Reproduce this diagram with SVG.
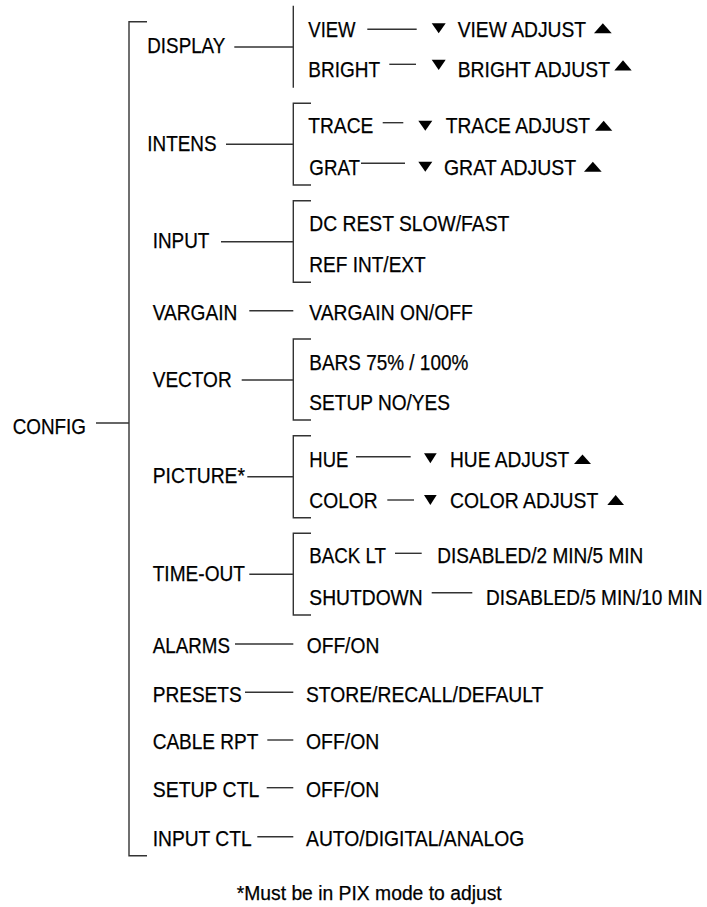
<svg xmlns="http://www.w3.org/2000/svg" width="707" height="907" viewBox="0 0 707 907">
<style>
text{font-family:"Liberation Sans",Arial,sans-serif;font-size:22.5px;fill:#000;stroke:#000;stroke-width:0.25}
.fn{font-size:20px}
.ln{stroke:#333;stroke-width:1.4;fill:none}
.tri{fill:#000}
</style>
<rect width="707" height="907" fill="#fff"/>
<g id="connectors" class="ln">
<path d="M147,21.7H129V855.7H147"/>
<line x1="96" y1="423" x2="129" y2="423"/>
<path d="M293.3,5.7V87.7"/>
<path d="M311,103.3H293.3V185H311"/>
<path d="M311,200.7H293.3V282.3H311"/>
<path d="M311,339H293.3V420H311"/>
<path d="M311,435.7H293.3V517.7H311"/>
<path d="M311,533.3H293.3V615H311"/>
<line x1="234.3" y1="47" x2="293.3" y2="47"/>
<line x1="226" y1="144.3" x2="293.3" y2="144.3"/>
<line x1="221" y1="241.7" x2="293.3" y2="241.7"/>
<line x1="249.3" y1="310.7" x2="293.3" y2="310.7"/>
<line x1="241.7" y1="380" x2="293.3" y2="380"/>
<line x1="247.3" y1="476.7" x2="293.3" y2="476.7"/>
<line x1="249.3" y1="574.3" x2="293.3" y2="574.3"/>
<line x1="235" y1="644" x2="293.3" y2="644"/>
<line x1="245" y1="692.3" x2="293.3" y2="692.3"/>
<line x1="267.3" y1="740" x2="293.3" y2="740"/>
<line x1="266.7" y1="787.7" x2="293.3" y2="787.7"/>
<line x1="257.3" y1="836.7" x2="293.3" y2="836.7"/>
<line x1="367.3" y1="29.3" x2="416.7" y2="29.3"/>
<line x1="389.3" y1="64.3" x2="416" y2="64.3"/>
<line x1="382.7" y1="122.7" x2="403.3" y2="122.7"/>
<line x1="361" y1="163.3" x2="405" y2="163.3"/>
<line x1="356" y1="456.7" x2="410.7" y2="456.7"/>
<line x1="387.3" y1="500" x2="414" y2="500"/>
<line x1="395" y1="553.3" x2="421.7" y2="553.3"/>
<line x1="431.7" y1="592.7" x2="472.3" y2="592.7"/>
</g>
<g id="config"><text x="12.7" y="434" textLength="73.3" lengthAdjust="spacingAndGlyphs">CONFIG</text></g>
<g id="display"><text x="147.3" y="52.7" textLength="78" lengthAdjust="spacingAndGlyphs">DISPLAY</text></g>
<g id="view"><text x="308.3" y="36.7" textLength="47.3" lengthAdjust="spacingAndGlyphs">VIEW</text></g>
<g id="view-adjust">
<polygon class="tri" points="431.7,23.3 445.7,23.3 438.7,33.3"/>
<text x="457.7" y="36.7" textLength="128.3" lengthAdjust="spacingAndGlyphs">VIEW ADJUST</text>
<polygon class="tri" points="594,33.3 611.7,33.3 602.85,23.3"/>
</g>
<g id="bright"><text x="308.3" y="77.3" textLength="71.7" lengthAdjust="spacingAndGlyphs">BRIGHT</text></g>
<g id="bright-adjust">
<polygon class="tri" points="431.7,59.7 445.7,59.7 438.7,70"/>
<text x="457.7" y="77.3" textLength="152.3" lengthAdjust="spacingAndGlyphs">BRIGHT ADJUST</text>
<polygon class="tri" points="614.3,70.5 631.7,70.5 623,60.2"/>
</g>
<g id="intens"><text x="147.3" y="150.7" textLength="69.3" lengthAdjust="spacingAndGlyphs">INTENS</text></g>
<g id="trace"><text x="308.3" y="133.3" textLength="65" lengthAdjust="spacingAndGlyphs">TRACE</text></g>
<g id="trace-adjust">
<polygon class="tri" points="418.3,120.7 432.3,120.7 425.3,130.7"/>
<text x="445.7" y="133.3" textLength="144.3" lengthAdjust="spacingAndGlyphs">TRACE ADJUST</text>
<polygon class="tri" points="595,130.7 612.3,130.7 603.65,120.7"/>
</g>
<g id="grat"><text x="309.3" y="175" textLength="50.7" lengthAdjust="spacingAndGlyphs">GRAT</text></g>
<g id="grat-adjust">
<polygon class="tri" points="418.3,161.7 432.3,161.7 425.3,171.7"/>
<text x="444" y="175" textLength="132" lengthAdjust="spacingAndGlyphs">GRAT ADJUST</text>
<polygon class="tri" points="584,171.7 601.7,171.7 592.85,161.7"/>
</g>
<g id="input"><text x="152.7" y="248.3" textLength="56.7" lengthAdjust="spacingAndGlyphs">INPUT</text></g>
<g id="dc-rest"><text x="309.3" y="230.7" textLength="200" lengthAdjust="spacingAndGlyphs">DC REST SLOW/FAST</text></g>
<g id="ref"><text x="309.3" y="271.7" textLength="116.4" lengthAdjust="spacingAndGlyphs">REF INT/EXT</text></g>
<g id="vargain"><text x="152.7" y="320" textLength="84.7" lengthAdjust="spacingAndGlyphs">VARGAIN</text></g>
<g id="vargain-onoff"><text x="309.3" y="320" textLength="163.4" lengthAdjust="spacingAndGlyphs">VARGAIN ON/OFF</text></g>
<g id="vector"><text x="152.7" y="386.7" textLength="79" lengthAdjust="spacingAndGlyphs">VECTOR</text></g>
<g id="bars"><text x="309.3" y="370" textLength="159" lengthAdjust="spacingAndGlyphs">BARS 75% / 100%</text></g>
<g id="setup"><text x="309.3" y="410" textLength="140.7" lengthAdjust="spacingAndGlyphs">SETUP NO/YES</text></g>
<g id="picture"><text x="152.7" y="482.7" textLength="92.3" lengthAdjust="spacingAndGlyphs">PICTURE*</text></g>
<g id="hue"><text x="309.3" y="466.7" textLength="39" lengthAdjust="spacingAndGlyphs">HUE</text></g>
<g id="hue-adjust">
<polygon class="tri" points="424,453.3 436.7,453.3 430.35,463.3"/>
<text x="450" y="466.7" textLength="119.3" lengthAdjust="spacingAndGlyphs">HUE ADJUST</text>
<polygon class="tri" points="574,464 591,464 582.5,454.5"/>
</g>
<g id="color"><text x="309.3" y="508.3" textLength="68.4" lengthAdjust="spacingAndGlyphs">COLOR</text></g>
<g id="color-adjust">
<polygon class="tri" points="424,495 436.7,495 430.35,505"/>
<text x="450" y="508.3" textLength="148.3" lengthAdjust="spacingAndGlyphs">COLOR ADJUST</text>
<polygon class="tri" points="607.3,505 624,505 615.65,495"/>
</g>
<g id="time-out"><text x="152.7" y="581" textLength="92.3" lengthAdjust="spacingAndGlyphs">TIME-OUT</text></g>
<g id="back-lt"><text x="309.3" y="563.3" textLength="76.7" lengthAdjust="spacingAndGlyphs">BACK LT</text></g>
<g id="back-lt-opts"><text x="437.3" y="563.3" textLength="206" lengthAdjust="spacingAndGlyphs">DISABLED/2 MIN/5 MIN</text></g>
<g id="shutdown"><text x="309.3" y="605" textLength="113.4" lengthAdjust="spacingAndGlyphs">SHUTDOWN</text></g>
<g id="shutdown-opts"><text transform="translate(486,605) scale(0.845,1)" x="0" y="0">DISABLED/5 MIN/10 MIN</text></g>
<g id="alarms"><text x="152.7" y="653.3" textLength="77.3" lengthAdjust="spacingAndGlyphs">ALARMS</text></g>
<g id="alarms-opts"><text x="306.7" y="653.3" textLength="72.6" lengthAdjust="spacingAndGlyphs">OFF/ON</text></g>
<g id="presets"><text x="152.7" y="701.7" textLength="89" lengthAdjust="spacingAndGlyphs">PRESETS</text></g>
<g id="presets-opts"><text x="306" y="701.7" textLength="237.3" lengthAdjust="spacingAndGlyphs">STORE/RECALL/DEFAULT</text></g>
<g id="cable-rpt"><text x="152.7" y="749.3" textLength="105.7" lengthAdjust="spacingAndGlyphs">CABLE RPT</text></g>
<g id="cable-rpt-opts"><text x="306" y="749.3" textLength="73.3" lengthAdjust="spacingAndGlyphs">OFF/ON</text></g>
<g id="setup-ctl"><text x="152.7" y="797.3" textLength="106.7" lengthAdjust="spacingAndGlyphs">SETUP CTL</text></g>
<g id="setup-ctl-opts"><text x="306" y="797.3" textLength="73.3" lengthAdjust="spacingAndGlyphs">OFF/ON</text></g>
<g id="input-ctl"><text x="152.7" y="845.7" textLength="99" lengthAdjust="spacingAndGlyphs">INPUT CTL</text></g>
<g id="input-ctl-opts"><text x="306" y="845.7" textLength="218.3" lengthAdjust="spacingAndGlyphs">AUTO/DIGITAL/ANALOG</text></g>
<g id="footnote"><text class="fn" x="236.7" y="900" textLength="265" lengthAdjust="spacingAndGlyphs">*Must be in PIX mode to adjust</text></g>
</svg>
